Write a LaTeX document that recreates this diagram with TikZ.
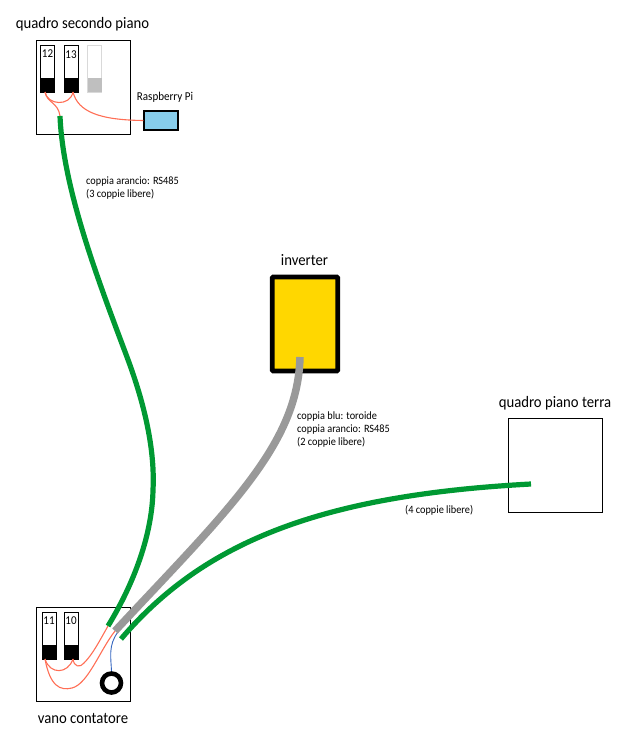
\documentclass[tikz,border=0pt]{standalone}
\usepackage{fontspec}
\setmainfont{Carlito}[FakeStretch=0.92]
\definecolor{cavogreen}{RGB}{0,153,51}
\definecolor{cavogrey}{RGB}{153,153,153}
\definecolor{wirered}{RGB}{255,110,85}
\definecolor{wireblue}{RGB}{50,100,190}
\definecolor{raspblue}{RGB}{135,205,235}
\definecolor{invgold}{RGB}{255,215,0}
\tikzset{
  quadro/.style={draw,line width=0.9pt,minimum width=94pt,minimum height=94pt,inner sep=0pt},
  interr/.style={draw,line width=0.8pt,minimum width=14pt,minimum height=47pt,inner sep=0pt},
  morsetto/.style={fill=black,minimum width=14pt,minimum height=14pt,inner sep=0pt},
  titolo/.style={font=\fontsize{16}{18}\selectfont,inner sep=0pt},
  nota/.style={font=\fontsize{11.2}{12.8}\selectfont,align=left,inner sep=0pt,anchor=north west},
  numero/.style={font=\fontsize{12}{13}\selectfont,inner sep=0pt},
  cavo/.style={line width=5.2pt},
  filo/.style={wirered,line width=1.1pt},
}
\begin{document}
\begin{tikzpicture}[x=1pt,y=-1pt]
  \useasboundingbox (0,0) rectangle (627,739);
  %quadri
  \node[quadro] (qsec) at (83,87.5) {};
  \node[quadro] (qcont) at (83,654.5) {};
  \node[quadro] (qterra) at (555,465.5) {};
  \node[titolo] (tsec) at (82.5,24) {quadro secondo piano};
  \node[titolo] (tcont) at (83,718) {vano contatore};
  \node[titolo] (tterra) at (555,403) {quadro piano terra};
  \node[titolo] (tinv) at (304.5,260) {inverter};
  %interruttori secondo piano
  \node[interr] (i12) at (47.5,68.5) {};
  \node[interr] (i13) at (71,68.5) {};
  \node[interr,draw=black!15] (ivuoto) at (94.5,68.5) {};
  \node[morsetto] (m12) at (47.5,85) {};
  \node[morsetto] (m13) at (71,85) {};
  \node[morsetto,fill=black!25] (mvuoto) at (94.5,85) {};
  \node[numero] at (47.5,54) {12};
  \node[numero] at (71,55) {13};
  %interruttori contatore
  \node[interr] (i11) at (49,635.5) {};
  \node[interr] (i10) at (71,635.5) {};
  \node[morsetto,minimum width=15pt] (m11) at (49,652) {};
  \node[morsetto,minimum width=15pt] (m10) at (71,652) {};
  \node[numero] at (49,621) {11};
  \node[numero] at (71,621) {10};
  %raspberry, inverter, toroide
  \node[draw,line width=1.1pt,fill=raspblue,minimum width=34pt,minimum height=19pt,inner sep=0pt] (rasp) at (161,120.5) {};
  \node[font=\fontsize{12}{13}\selectfont,inner sep=0pt] (trasp) at (165,97) {Raspberry Pi};
  \node[draw,rounded corners=0.8pt,line width=4.6pt,fill=invgold,minimum width=65.5pt,minimum height=94pt,inner sep=0pt] (inv) at (305,324) {};
  \node[circle,draw,line width=4.6pt,minimum size=19pt,inner sep=0pt] (toro) at (111.5,683) {};
  %estremi liberi
  \coordinate (gsec) at (60,116);
  \coordinate (gcont) at (108,626);
  \coordinate (ginv) at (300,357);
  \coordinate (gris) at (115,631);
  \coordinate (gterra) at (531,484);
  \coordinate (gbasso) at (121,639);
  \coordinate (a12) at (45,92);
  \coordinate (a13) at (73,92);
  \coordinate (a11) at (45,659);
  \coordinate (a10) at (73,659);
  %fili
  \draw[filo] (a12) .. controls (47,103) and (58,102) .. (gsec);
  \draw[filo] (a12) .. controls (47,105) and (70,107) .. (a13);
  \draw[filo] (a13) .. controls (78,112) and (100,120) .. (rasp.west);
  \draw[filo] (a11) .. controls (50,675) and (68,674) .. (a10);
  \draw[filo] (a10) .. controls (74,667) and (80,668) .. (84,663) .. controls (93,654) and (100,640) .. (gcont);
  \draw[filo] (a11) .. controls (50,686) and (60,691) .. (72,688) .. controls (88,684) and (100,650) .. (gris);
  \draw[wireblue,line width=0.9pt] (toro.north) .. controls (111,658) and (108,645) .. (118,632);
  %cavi
  \draw[cavo,cavogreen] (gsec) .. controls (63,190) and (100,285) .. (127,357) .. controls (145,405) and (155,450) .. (153,490) .. controls (152,540) and (130,590) .. (gcont);
  \draw[cavo,cavogrey,line width=7.5pt] (ginv) .. controls (298,445) and (228,510) .. (gris);
  \draw[cavo,cavogreen] (gterra) .. controls (325,495) and (205,540) .. (gbasso);
  %note
  \node[nota] (ncavo1) at (86,176.5) {coppia arancio: RS485\\(3 coppie libere)};
  \node[nota] (ncavo2) at (297,411.5) {coppia blu: toroide\\coppia arancio: RS485\\(2 coppie libere)};
  \node[nota] (ncavo3) at (405,505) {(4 coppie libere)};
\end{tikzpicture}
\end{document}
